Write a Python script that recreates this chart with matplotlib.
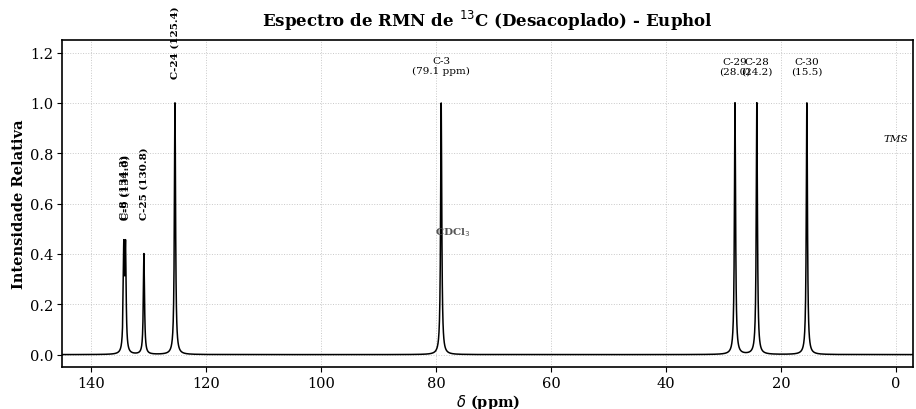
import matplotlib
matplotlib.use('Agg')
from matplotlib import pyplot as plt
import numpy as np

plt.rcParams['font.family'] = 'DejaVu Serif'

# peak list (ppm, relative intensity)
carbons = ['C-8', 'C-9', 'C-25', 'C-24', 'C-3', 'C-29', 'C-28', 'C-30']
shifts = [134.3, 134.0, 130.8, 125.4, 79.1, 28.0, 24.2, 15.5]
intens = [0.40, 0.40, 0.40, 1.00, 1.00, 1.00, 1.00, 1.00]
hwhm = 0.12

ppm = np.linspace(-3, 145, 30000)
spec = np.zeros_like(ppm)
for d, a in zip(shifts, intens):
    spec += a / (1 + ((ppm - d) / hwhm) ** 2)

fig = plt.figure(figsize=(9.16, 4.1), dpi=100)
ax = fig.add_axes([0.068, 0.102, 0.929, 0.798])
ax.plot(ppm, spec, color='k', lw=1.1)

ax.set_xlim(145, -3)
ax.set_ylim(-0.05, 1.25)
ax.set_xticks(np.arange(0, 141, 20))
ax.set_yticks(np.arange(0, 1.21, 0.2))
ax.tick_params(labelsize=10.5, pad=3)
ax.grid(True, linestyle=':', color='#bbbbbb', linewidth=0.7, alpha=0.8)
ax.set_axisbelow(True)
for s in ax.spines.values():
    s.set_linewidth(1.2)

ax.set_title('Espectro de RMN de $^{13}$C (Desacoplado) - Euphol',
             fontsize=12, fontweight='bold', pad=10)
ax.set_xlabel(r'$\delta$ (ppm)', fontsize=10.5, fontweight='bold', labelpad=1)
ax.set_ylabel('Intensidade Relativa', fontsize=10.5, fontweight='bold', labelpad=3)

for name, d, a in zip(carbons, shifts, intens):
    if name in ('C-8', 'C-9', 'C-25'):
        ax.text(d, 0.54, '%s (%.1f)' % (name, d), rotation=90, ha='center',
                va='bottom', fontsize=7.5, fontweight='bold')
    elif name == 'C-24':
        ax.text(d, 1.1, '%s (%.1f)' % (name, d), rotation=90, ha='center',
                va='bottom', fontsize=7.5, fontweight='bold', clip_on=False)
    elif name == 'C-3':
        ax.text(d, 1.11, '%s\n(%.1f ppm)' % (name, d), ha='center',
                va='bottom', fontsize=7.5, linespacing=1.1)
    else:
        ax.text(d, 1.11, '%s\n(%.1f)' % (name, d), ha='center',
                va='bottom', fontsize=7.5, linespacing=1.1)

ax.text(77.0, 0.49, 'CDCl$_3$', ha='center', va='center', fontsize=7.5,
        color='#555555', fontweight='bold')
ax.text(0, 0.86, 'TMS', ha='center', va='center', fontsize=7.5, style='italic')

fig.savefig('out.png', dpi=100)
